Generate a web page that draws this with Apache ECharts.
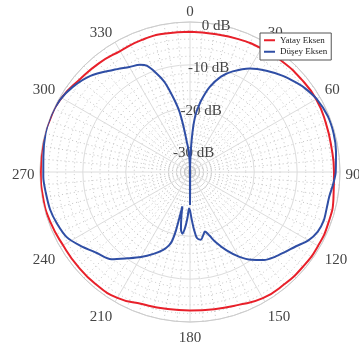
<!DOCTYPE html>
<html>
<head>
<meta charset="utf-8">
<script src="https://cdn.jsdelivr.net/npm/echarts@6/dist/echarts.min.js"></script>
<style>
  html, body { margin: 0; padding: 0; background: #fff; }
  #chart { width: 359px; height: 349px; }
</style>
</head>
<body>
<div id="chart"></div>
<script>
// Radiation pattern: gain in dB versus azimuth angle (degrees, clockwise from top)

const seriesNames = ['Yatay Eksen', 'Düşey Eksen'];

// Horizontal plane
const yatayAngles = [0, 10, 20, 30, 40, 50, 60, 70, 80, 90, 100, 110, 120, 130, 140, 150, 160, 170, 180,
  190, 200, 210, 220, 230, 240, 250, 260, 270, 280, 290, 300, 310, 320, 330, 340, 350, 360];
const yatayDb = [-2.3, -2.3, -2.0, -1.7, -1.4, -1.2, -1.0, -1.3, -1.5, -1.4, -1.0, -0.6, -0.5, -0.6, -0.8, -1.0, -2.0, -2.5, -2.7,
  -2.6, -2.2, -1.1, -0.8, -0.8, -0.8, -0.4, -0.2, -0.2, 0.0, -0.1, -0.4, -1.4, -1.9, -2.4, -2.2, -2.2, -2.3];

// Vertical plane
const duseyAngles = [0, 1, 2, 3, 4, 5, 6, 7, 9, 13, 18, 23, 30, 37, 44, 50, 54, 60, 68, 75, 82, 90, 95,
  100, 105, 110, 115, 120, 125, 130, 135, 140, 145, 150, 155, 160, 163, 166, 168, 171, 174, 176, 178, 180,
  181.5, 183, 185, 187, 189, 191, 192.5, 193.5, 194.5, 196, 199, 204, 210, 216, 222, 229, 236, 242, 249,
  255, 262, 268, 276, 285, 292, 299, 306, 314, 323, 330, 335, 338, 341, 344, 346, 348, 350, 351, 352, 353,
  354, 356, 358, 359, 360];
const duseyDb = [-42.7, -36, -30.5, -27.5, -24.5, -22.5, -21, -20, -18, -14.7, -11.6, -9.5, -7.1, -5.4, -3.8, -2.6, -1.8, -0.9, -0.3, -0.3, -0.6, -1.0, -1.5,
  -2.0, -2.0, -1.8, -2.1, -3.1, -4.8, -6.0, -7.0, -8.2, -10.0, -12.2, -14.8, -17.6, -19.5, -20.7, -20.0, -19.0, -19.5, -21.5, -24.0, -26.0,
  -26.5, -24.5, -22, -20.5, -21.5, -24.5, -26.8, -21, -18.5, -17.2, -15.8, -14.1, -12.1, -10.1, -7.6, -6.2, -4.2, -2.5, -1.7,
  -1.2, -1.0, -0.75, -0.6, -0.1, 0, -0.3, -1.2, -2.7, -5.2, -6.7, -7.4, -8.3, -10.5, -13, -15.5, -18, -20.5, -22.5, -24.5, -26.5,
  -28, -29.8, -32.5, -37, -42.7];

const radiusMin = -35;
const radiusMax = 0;

const FONT = '"Liberation Serif", "DejaVu Serif", serif';
const gridColor = '#dcdcdc';
const minorStyle = { color: '#c4c4c4', width: 1, type: [1, 3] };
const labelStyle = { color: '#444', fontSize: 15, fontFamily: FONT };

const chart = echarts.init(document.getElementById('chart'), null, { renderer: 'canvas' });

const option = {
  animation: false,
  backgroundColor: '#ffffff',
  legend: {
    left: 260,
    top: 33,
    orient: 'vertical',
    padding: [2, 4, 3, 4],
    itemGap: 1,
    itemWidth: 11,
    itemHeight: 2,
    icon: 'rect',
    borderColor: '#555',
    borderWidth: 1,
    borderRadius: 0,
    backgroundColor: '#ffffff',
    textStyle: { fontFamily: FONT, fontSize: 9, lineHeight: 10.5, color: '#222' },
    data: seriesNames
  },
  polar: [
    { center: [190, 172], radius: 150 },   // grid and curves
    { center: [190, 175], radius: 150 },   // angle labels
    { center: [190, 174], radius: 150 }    // dB labels
  ],
  angleAxis: [
    {
      polarIndex: 0,
      type: 'value',
      min: 0,
      max: 360,
      interval: 30,
      startAngle: 90,
      clockwise: true,
      axisLine: { lineStyle: { color: '#cccccc', width: 1 } },
      axisTick: { show: false },
      axisLabel: { show: false },
      splitLine: { lineStyle: { color: gridColor, width: 1 } },
      minorTick: { show: false, splitNumber: 6 },
      minorSplitLine: { show: true, lineStyle: minorStyle }
    },
    {
      polarIndex: 1,
      type: 'value',
      min: 0,
      max: 360,
      interval: 30,
      startAngle: 90,
      clockwise: true,
      axisLine: { show: false },
      axisTick: { show: false },
      splitLine: { show: false },
      axisLabel: Object.assign({
        margin: 5.5,
        formatter: v => (v === 360 ? '' : String(v))
      }, labelStyle)
    },
    {
      // dB labels sit along a ray turned 10 degrees clockwise from the top
      polarIndex: 2,
      type: 'value',
      min: 0,
      max: 360,
      startAngle: 80,
      show: false
    }
  ],
  radiusAxis: [
    {
      polarIndex: 0,
      type: 'value',
      min: radiusMin,
      max: radiusMax,
      axisLine: { show: false },
      axisTick: { show: false },
      axisLabel: { show: false },
      splitLine: { lineStyle: { color: gridColor, width: 1 } },
      minorTick: { show: false, splitNumber: 5 },
      minorSplitLine: { show: true, lineStyle: minorStyle }
    },
    {
      polarIndex: 1,
      type: 'value',
      min: radiusMin,
      max: radiusMax,
      show: false
    },
    {
      polarIndex: 2,
      type: 'value',
      min: radiusMin,
      max: radiusMax,
      axisLine: { show: false },
      axisTick: { show: false },
      splitLine: { show: false },
      axisLabel: Object.assign({
        margin: 0,
        align: 'center',
        verticalAlign: 'middle',
        formatter: v => (v === radiusMin ? '' : v + ' dB')
      }, labelStyle)
    }
  ],
  series: [
    {
      name: seriesNames[0],
      type: 'line',
      coordinateSystem: 'polar',
      polarIndex: 0,
      symbol: 'none',
      showSymbol: false,
      clip: false,
      smooth: 0.5,
      z: 3,
      lineStyle: { color: '#e8202a', width: 2 },
      itemStyle: { color: '#e8202a' },
      data: yatayAngles.map((a, i) => [yatayDb[i], a])
    },
    {
      name: seriesNames[1],
      type: 'line',
      coordinateSystem: 'polar',
      polarIndex: 0,
      symbol: 'none',
      showSymbol: false,
      clip: false,
      smooth: 0.3,
      z: 3,
      lineStyle: { color: '#2f4ea5', width: 2 },
      itemStyle: { color: '#2f4ea5' },
      data: duseyAngles.map((a, i) => [duseyDb[i], a])
    }
  ]
};

chart.setOption(option);
</script>
</body>
</html>
